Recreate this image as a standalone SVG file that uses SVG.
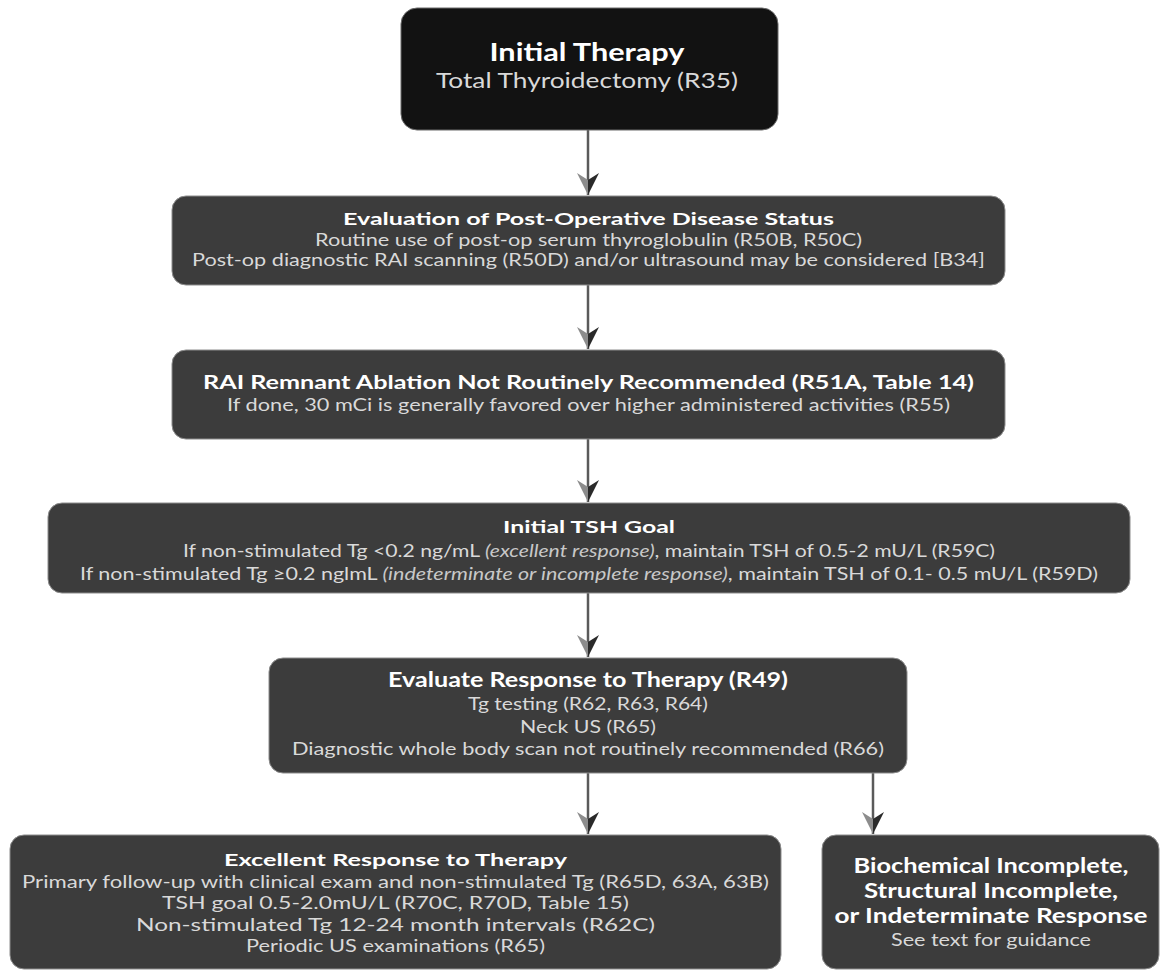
<svg xmlns="http://www.w3.org/2000/svg" width="1163" height="972" viewBox="0 0 1163 972">
<style>
.box{fill:#3c3c3c;stroke:#8c8c8c;stroke-width:1}
.dark{fill:#121212;stroke:#6a6a6a;stroke-width:1}
text{font-family:Lato,"Open Sans","Liberation Sans",sans-serif;text-anchor:middle}
.t{fill:#ffffff;font-weight:bold}
.s{fill:#d9d9d9}
.it{font-style:italic;fill:#c8c8c8}
.conn{stroke:#5a5a5a;stroke-width:2.5;fill:none}
</style>
<defs>
<marker id="ah" markerUnits="userSpaceOnUse" markerWidth="26" markerHeight="26" viewBox="-23 -13 26 26" refX="0" refY="0" orient="auto">
<path d="M-22,11 L-15,0 L0,0 Z" fill="#8c8c8c"/>
<path d="M-22,-11 L-15,0 L0,0 Z" fill="#2a2a2a"/>
</marker>
</defs>
<rect width="1163" height="972" fill="#ffffff"/>
<g id="connectors">
<line class="conn" x1="588" y1="130" x2="588" y2="195" marker-end="url(#ah)"/>
<line class="conn" x1="588" y1="285" x2="588" y2="349" marker-end="url(#ah)"/>
<line class="conn" x1="588" y1="439" x2="588" y2="502" marker-end="url(#ah)"/>
<line class="conn" x1="588" y1="593" x2="588" y2="657" marker-end="url(#ah)"/>
<line class="conn" x1="588" y1="773" x2="588" y2="834" marker-end="url(#ah)"/>
<line class="conn" x1="873" y1="773" x2="873" y2="834" marker-end="url(#ah)"/>
</g>
<g id="initial-therapy">
<rect class="dark" x="401" y="8" width="377" height="122" rx="16"/>
<text class="t" x="587" y="61" font-size="24" textLength="195" lengthAdjust="spacingAndGlyphs">Initial Therapy</text>
<text class="s" x="587" y="88" font-size="21" textLength="302" lengthAdjust="spacingAndGlyphs" fill="#e0e0e0">Total Thyroidectomy (R35)</text>
</g>
<g id="post-op-status">
<rect class="box" x="172" y="196" width="833" height="89" rx="14"/>
<text class="t" x="588.5" y="225" font-size="17" textLength="491" lengthAdjust="spacingAndGlyphs">Evaluation of Post-Operative Disease Status</text>
<text class="s" x="588.5" y="245.5" font-size="17" textLength="547" lengthAdjust="spacingAndGlyphs">Routine use of post-op serum thyroglobulin (R50B, R50C)</text>
<text class="s" x="588.5" y="266" font-size="17" textLength="793" lengthAdjust="spacingAndGlyphs">Post-op diagnostic RAI scanning (R50D) and/or ultrasound may be considered [B34]</text>
</g>
<g id="rai-ablation">
<rect class="box" x="172" y="350" width="833" height="89" rx="14"/>
<text class="t" x="588.5" y="389" font-size="18.5" textLength="771" lengthAdjust="spacingAndGlyphs">RAI Remnant Ablation Not Routinely Recommended (R51A, Table 14)</text>
<text class="s" x="588.5" y="411" font-size="17.5" textLength="723" lengthAdjust="spacingAndGlyphs">If done, 30 mCi is generally favored over higher administered activities (R55)</text>
</g>
<g id="tsh-goal">
<rect class="box" x="48" y="503" width="1082" height="90" rx="14"/>
<text class="t" x="589" y="533" font-size="17.5" textLength="172" lengthAdjust="spacingAndGlyphs">Initial TSH Goal</text>
<text class="s" x="589" y="557" font-size="17.5" textLength="812" lengthAdjust="spacingAndGlyphs">If non-stimulated Tg &lt;0.2 ng/mL <tspan class="it">(excellent response)</tspan>, maintain TSH of 0.5-2 mU/L (R59C)</text>
<text class="s" x="589" y="580" font-size="17.5" textLength="1018" lengthAdjust="spacingAndGlyphs">If non-stimulated Tg ≥0.2 nglmL <tspan class="it">(indeterminate or incomplete response)</tspan>, maintain TSH of 0.1- 0.5 mU/L (R59D)</text>
</g>
<g id="evaluate-response">
<rect class="box" x="269" y="658" width="638" height="115" rx="14"/>
<text class="t" x="588" y="687" font-size="20" textLength="400" lengthAdjust="spacingAndGlyphs">Evaluate Response to Therapy (R49)</text>
<text class="s" x="588" y="710" font-size="18" textLength="240" lengthAdjust="spacingAndGlyphs">Tg testing (R62, R63, R64)</text>
<text class="s" x="588" y="732.5" font-size="18" textLength="136" lengthAdjust="spacingAndGlyphs">Neck US (R65)</text>
<text class="s" x="588" y="755" font-size="18" textLength="592" lengthAdjust="spacingAndGlyphs">Diagnostic whole body scan not routinely recommended (R66)</text>
</g>
<g id="excellent-response">
<rect class="box" x="10" y="835" width="771" height="134" rx="14"/>
<text class="t" x="395.5" y="866" font-size="17.5" textLength="343" lengthAdjust="spacingAndGlyphs">Excellent Response to Therapy</text>
<text class="s" x="395.5" y="887.5" font-size="17.5" textLength="747" lengthAdjust="spacingAndGlyphs">Primary follow-up with clinical exam and non-stimulated Tg (R65D, 63A, 63B)</text>
<text class="s" x="395.5" y="909" font-size="17.5" textLength="467" lengthAdjust="spacingAndGlyphs">TSH goal 0.5-2.0mU/L (R70C, R70D, Table 15)</text>
<text class="s" x="395.5" y="930.5" font-size="17.5" textLength="519" lengthAdjust="spacingAndGlyphs">Non-stimulated Tg 12-24 month intervals (R62C)</text>
<text class="s" x="395.5" y="952" font-size="17.5" textLength="299" lengthAdjust="spacingAndGlyphs">Periodic US examinations (R65)</text>
</g>
<g id="incomplete-response">
<rect class="box" x="822" y="835" width="337" height="134" rx="14"/>
<text class="t" x="991" y="873" font-size="20.5" textLength="275" lengthAdjust="spacingAndGlyphs">Biochemical Incomplete,</text>
<text class="t" x="991" y="898" font-size="20.5" textLength="254" lengthAdjust="spacingAndGlyphs">Structural Incomplete,</text>
<text class="t" x="991" y="923" font-size="20.5" textLength="313" lengthAdjust="spacingAndGlyphs">or Indeterminate Response</text>
<text class="s" x="991" y="946" font-size="18" textLength="200" lengthAdjust="spacingAndGlyphs">See text for guidance</text>
</g>
</svg>
